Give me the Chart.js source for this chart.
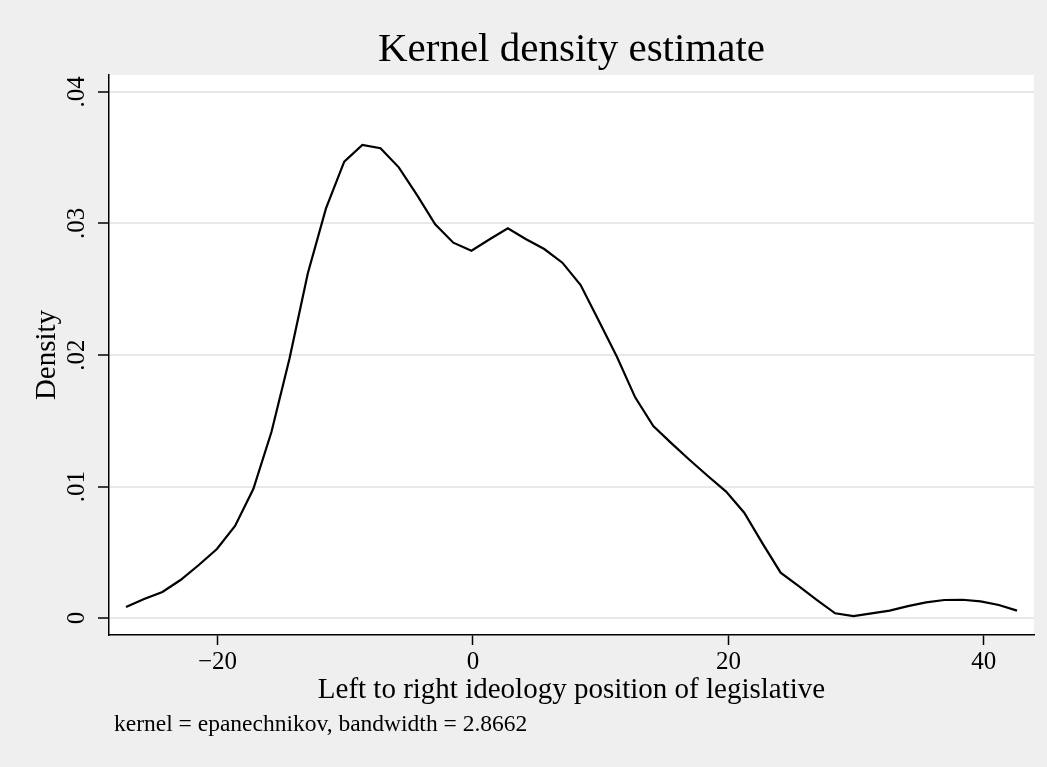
<!DOCTYPE html>
<html>
<head>
<meta charset="utf-8">
<title>Kernel density estimate</title>
<script src="https://cdn.jsdelivr.net/npm/chart.js@4/dist/chart.umd.min.js"></script>
<style>
    html, body { margin: 0; padding: 0; background: #efefef; }
    #wrap { width: 1047px; height: 767px; }
</style>
</head>
<body>
<div id="wrap"><canvas id="kdChart" width="1047" height="767"></canvas></div>
<script>
// Evaluation grid (50 points) and the estimated density
const gridX = [
    -27.17, -25.75, -24.32, -22.90, -21.47, -20.05, -18.63, -17.20, -15.78, -14.36,
    -12.93, -11.51, -10.08, -8.66, -7.24, -5.81, -4.39, -2.96, -1.54, -0.12,
    1.31, 2.73, 4.16, 5.58, 7.00, 8.43, 9.85, 11.27, 12.70, 14.12,
    15.55, 16.97, 18.39, 19.82, 21.24, 22.67, 24.09, 25.51, 26.94, 28.36,
    29.79, 31.21, 32.63, 34.06, 35.48, 36.91, 38.33, 39.75, 41.18, 42.60
];
const density = [
    0.00084, 0.00144, 0.00198, 0.00289, 0.00403, 0.00525, 0.00700, 0.00981, 0.01414, 0.01975,
    0.02621, 0.03115, 0.03470, 0.03597, 0.03572, 0.03427, 0.03217, 0.02994, 0.02854, 0.02793,
    0.02880, 0.02963, 0.02880, 0.02806, 0.02702, 0.02532, 0.02261, 0.01987, 0.01678, 0.01460,
    0.01328, 0.01202, 0.01080, 0.00961, 0.00801, 0.00568, 0.00345, 0.00243, 0.00137, 0.00036,
    0.00015, 0.00036, 0.00056, 0.00091, 0.00119, 0.00137, 0.00139, 0.00127, 0.00099, 0.00056
];
const xTicks = [-20, 0, 20, 40];
const yTicks = [0, 0.01, 0.02, 0.03, 0.04];

const titleText = 'Kernel density estimate';
const xTitle = 'Left to right ideology position of legislative';
const yTitle = 'Density';
const noteText = 'kernel = epanechnikov, bandwidth = 2.8662';

const serif = "'Liberation Serif', 'Times New Roman', serif";

function fmtY(v) {
    return v === 0 ? '0' : v.toFixed(2).replace(/^0/, '');
}

// white plot region + texts that Chart.js can't place the Stata way
const stataLook = {
    id: 'stataLook',
    beforeDraw(chart) {
        const { ctx, chartArea: a } = chart;
        ctx.save();
        ctx.fillStyle = '#efefef';
        ctx.fillRect(0, 0, chart.width, chart.height);
        ctx.fillStyle = '#ffffff';
        ctx.fillRect(a.left, a.top, a.right - a.left, a.bottom - a.top);
        ctx.restore();
    },
    afterDraw(chart) {
        const { ctx, chartArea: a } = chart;
        const ys = chart.scales.y;
        const mid = (a.left + a.right) / 2;
        ctx.save();
        ctx.fillStyle = '#000';
        ctx.textAlign = 'center';
        ctx.textBaseline = 'alphabetic';

        ctx.font = '41px ' + serif;
        ctx.fillText(titleText, mid, 61);

        ctx.font = '29px ' + serif;
        ctx.fillText(xTitle, mid, 698);

        ctx.textAlign = 'left';
        ctx.font = '23.5px ' + serif;
        ctx.fillText(noteText, 114, 731);

        // rotated y tick labels
        ctx.textAlign = 'center';
        ctx.textBaseline = 'middle';
        ctx.font = '25px ' + serif;
        ys.ticks.forEach(t => {
            const py = ys.getPixelForValue(t.value);
            ctx.save();
            ctx.translate(77, py);
            ctx.rotate(-Math.PI / 2);
            ctx.fillText(fmtY(t.value), 0, 0);
            ctx.restore();
        });

        ctx.font = '29px ' + serif;
        ctx.save();
        ctx.translate(47, (a.top + a.bottom) / 2);
        ctx.rotate(-Math.PI / 2);
        ctx.fillText(yTitle, 0, 0);
        ctx.restore();

        ctx.restore();
    }
};

const ctx = document.getElementById('kdChart').getContext('2d');
new Chart(ctx, {
    type: 'line',
    data: {
        datasets: [{
            data: gridX.map((x, i) => ({ x: x, y: density[i] })),
            borderColor: '#000000',
            borderWidth: 2.2,
            pointRadius: 0,
            tension: 0,
            fill: false
        }]
    },
    options: {
        responsive: false,
        animation: false,
        devicePixelRatio: 1,
        layout: { padding: { left: 0, top: 75, right: 13, bottom: 92 } },
        plugins: {
            legend: { display: false },
            tooltip: { enabled: false }
        },
        scales: {
            x: {
                type: 'linear',
                min: -28.5,
                max: 43.93,
                afterBuildTicks: axis => { axis.ticks = xTicks.map(v => ({ value: v })); },
                afterFit: axis => { axis.height = 40; },
                border: { color: '#000', width: 1.5 },
                grid: {
                    drawOnChartArea: false,
                    drawTicks: true,
                    tickLength: 10,
                    tickColor: '#000',
                    tickWidth: 1.5
                },
                ticks: {
                    color: '#000',
                    font: { family: serif, size: 25 },
                    padding: 2,
                    maxRotation: 0,
                    callback: v => (v < 0 ? '\u2212' + Math.abs(v) : String(v))
                }
            },
            y: {
                type: 'linear',
                min: -0.00129,
                max: 0.04129,
                afterBuildTicks: axis => { axis.ticks = yTicks.map(v => ({ value: v })); },
                afterFit: axis => { axis.width = 109; },
                border: { color: '#000', width: 1.5 },
                grid: {
                    color: '#e8e8e8',
                    lineWidth: 2,
                    drawTicks: true,
                    tickLength: 11,
                    tickColor: '#000',
                    tickWidth: 1.5
                },
                ticks: { display: false }
            }
        }
    },
    plugins: [stataLook]
});
</script>
</body>
</html>
